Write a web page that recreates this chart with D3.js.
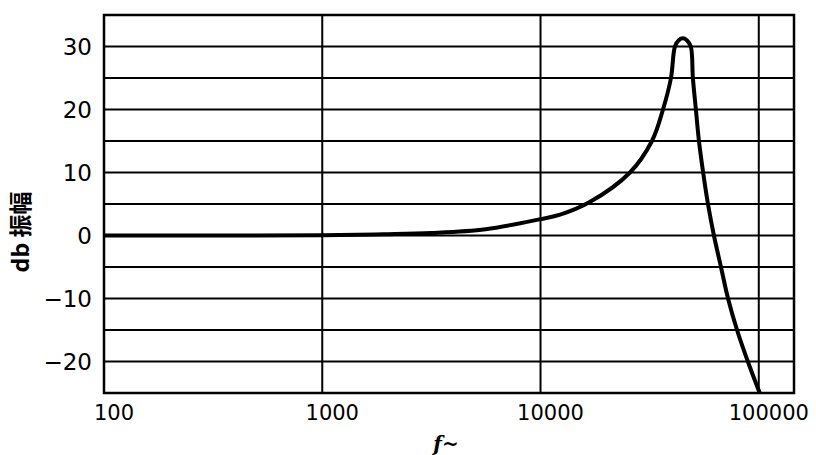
<!DOCTYPE html>
<html>
<head>
<meta charset="utf-8">
<script src="https://cdn.jsdelivr.net/npm/d3@7"></script>
<style>
  body { margin: 0; background: #fff; }
  svg { display: block; }
</style>
</head>
<body>
<div id="chart"><svg></svg></div>
<script>
const width = 816, height = 455;

// curve
const freq = [100, 300, 1000, 1900, 3160, 5600, 10000, 12300, 16800, 25700, 32400, 36400, 39600,
  41300, 43000, 44900, 46800, 48800, 49900, 51500, 53200, 55600, 58500, 62300, 67100, 72300, 79500, 89100, 101000];
const db = [0, 0, 0.05, 0.2, 0.4, 1.0, 2.6, 3.3, 5.3, 10, 15, 20, 25,
  30, 31, 31.3, 31, 30, 25, 20, 15, 10, 5, 0, -5, -10, -15, -20, -25];

const xTicks = [100, 1000, 10000, 100000];
const yTicks = [30, 20, 10, 0, -10, -20];
const yGrid = [-25, -20, -15, -10, -5, 0, 5, 10, 15, 20, 25, 30, 35];

const plotLeft = 104, plotRight = 794, plotTop = 15, plotBottom = 393;

const svg = d3.select("#chart svg")
  .attr("width", width)
  .attr("height", height);

const x = d3.scaleLog()
  .domain([100, 145000])
  .range([plotLeft, plotRight]);

const y = d3.scaleLinear()
  .domain([-25, 35])
  .range([plotBottom, plotTop]);

// horizontal grid
svg.append("g")
  .selectAll("line")
  .data(yGrid)
  .enter().append("line")
  .attr("x1", plotLeft).attr("x2", plotRight)
  .attr("y1", d => y(d)).attr("y2", d => y(d))
  .attr("stroke", "#000")
  .attr("stroke-width", 2);

// vertical grid (decades) + right edge
svg.append("g")
  .selectAll("line")
  .data(xTicks.concat([145000]))
  .enter().append("line")
  .attr("x1", d => x(d)).attr("x2", d => x(d))
  .attr("y1", plotTop).attr("y2", plotBottom)
  .attr("stroke", "#000")
  .attr("stroke-width", 2);

// frame a little heavier
svg.append("rect")
  .attr("x", plotLeft).attr("y", plotTop)
  .attr("width", plotRight - plotLeft).attr("height", plotBottom - plotTop)
  .attr("fill", "none")
  .attr("stroke", "#000")
  .attr("stroke-width", 2.5);

// the response curve
svg.append("path")
  .datum(freq.map((f, i) => [f, db[i]]))
  .attr("fill", "none")
  .attr("stroke", "#000")
  .attr("stroke-width", 4)
  .attr("stroke-linejoin", "round")
  .attr("d", d3.line()
    .x(d => x(d[0]))
    .y(d => y(d[1]))
    .curve(d3.curveCatmullRom.alpha(0.5)));

// y labels
svg.append("g")
  .selectAll("text")
  .data(yTicks)
  .enter().append("text")
  .attr("x", 92)
  .attr("y", d => y(d))
  .attr("dy", "0.36em")
  .attr("text-anchor", "end")
  .style("font-family", "DejaVu Sans, sans-serif")
  .style("font-size", "23px")
  .text(d => d < 0 ? "\u2212" + Math.abs(d) : d);

// x labels
svg.append("g")
  .selectAll("text")
  .data(xTicks)
  .enter().append("text")
  .attr("x", d => x(d) + 10)
  .attr("y", 420)
  .attr("text-anchor", "middle")
  .style("font-family", "DejaVu Sans, sans-serif")
  .style("font-size", "21px")
  .text(d => d);

// axis titles
svg.append("text")
  .attr("transform", "translate(29,232) rotate(-90)")
  .attr("text-anchor", "middle")
  .style("font-family", "Noto Sans CJK SC, DejaVu Sans, sans-serif")
  .style("font-size", "23px")
  .style("font-weight", "bold")
  .text("db 振幅");

svg.append("text")
  .attr("x", 446)
  .attr("y", 451)
  .attr("text-anchor", "middle")
  .style("font-family", "DejaVu Serif, serif")
  .style("font-size", "20px")
  .style("font-style", "italic")
  .style("font-weight", "bold")
  .text("f~");
</script>
</body>
</html>
